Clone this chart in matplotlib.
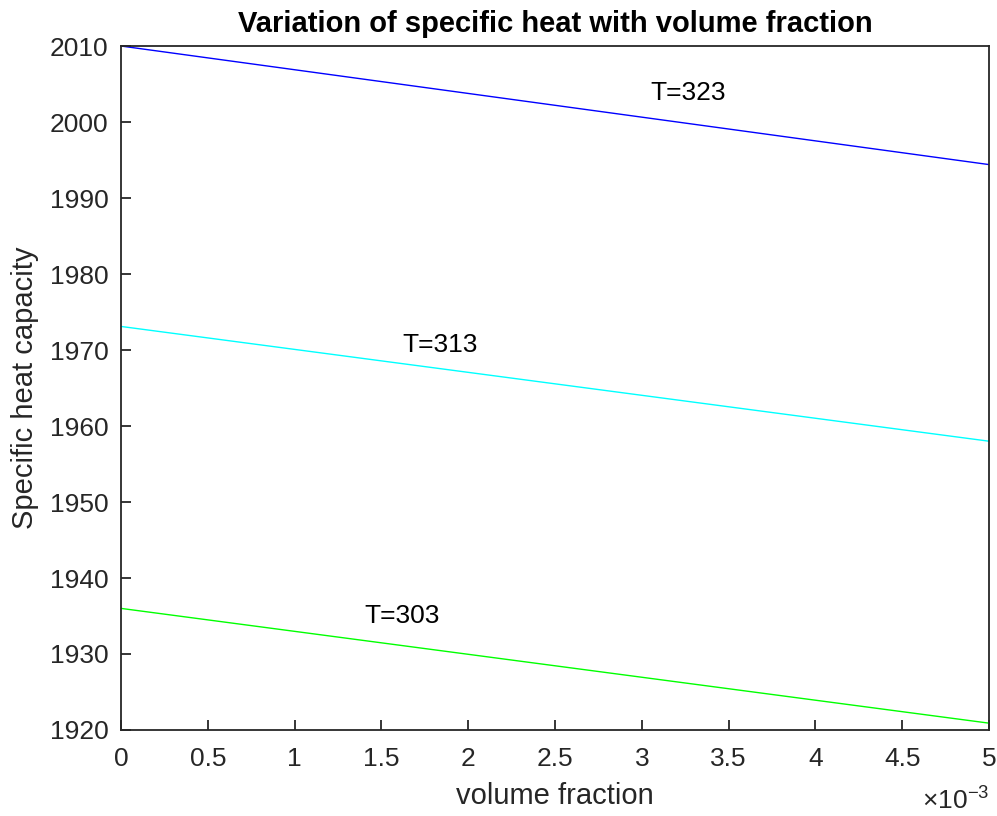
"""Specific heat capacity vs volume fraction at three temperatures."""

import matplotlib

matplotlib.use("Agg")
import matplotlib.pyplot as plt
from matplotlib.ticker import FuncFormatter, MultipleLocator

# volume fraction endpoints and specific heat
phi = [0.0, 0.005]
cp_303 = [1936.0, 1920.9]
cp_313 = [1973.1, 1958.0]
cp_323 = [2010.0, 1994.4]

labels = ["T=303", "T=313", "T=323"]
label_x = [1.40e-3, 1.62e-3, 3.05e-3]
label_y = [1935.0, 1970.7, 2003.8]

plt.rcParams["font.family"] = ["Liberation Sans", "DejaVu Sans"]
plt.rcParams["mathtext.fontset"] = "custom"
plt.rcParams["mathtext.rm"] = "Liberation Sans"
dark = "#262626"

fig = plt.figure(figsize=(9.97, 8.16), dpi=100)
ax = fig.add_axes([0.1214, 0.1054, 0.8706, 0.8382])

ax.plot(phi, cp_303, color="#00ff00", lw=1.0)
ax.plot(phi, cp_313, color="#00ffff", lw=1.0)
ax.plot(phi, cp_323, color="#0000ff", lw=1.0)
for lab, x, y in zip(labels, label_x, label_y):
    ax.text(x, y, lab, fontsize=19, ha="left", va="center", color="black")

ax.set_xlim(0, 0.005)
ax.set_ylim(1920, 2010)
ax.xaxis.set_major_locator(MultipleLocator(0.0005))
ax.yaxis.set_major_locator(MultipleLocator(10))
ax.xaxis.set_major_formatter(FuncFormatter(lambda v, p: f"{v * 1e3:g}"))
ax.tick_params(direction="in", length=7, width=1.3, colors=dark,
               labelsize=19, top=False, right=False)
ax.tick_params(axis="y", pad=9)
ax.tick_params(axis="x", pad=12)
for s in ax.spines.values():
    s.set_color(dark)
    s.set_linewidth(1.3)

ax.set_title("Variation of specific heat with volume fraction",
             fontsize=21, fontweight="bold", pad=10)
ax.set_xlabel("volume fraction", fontsize=21, color=dark, labelpad=8)
ax.set_ylabel("Specific heat capacity", fontsize=21, color=dark, labelpad=8)
ax.text(1.0, -0.115, r"$\times$10$^{\mathregular{-3}}$", transform=ax.transAxes,
        ha="right", va="baseline", fontsize=19, color=dark)

fig.savefig("out.png", dpi=100)
